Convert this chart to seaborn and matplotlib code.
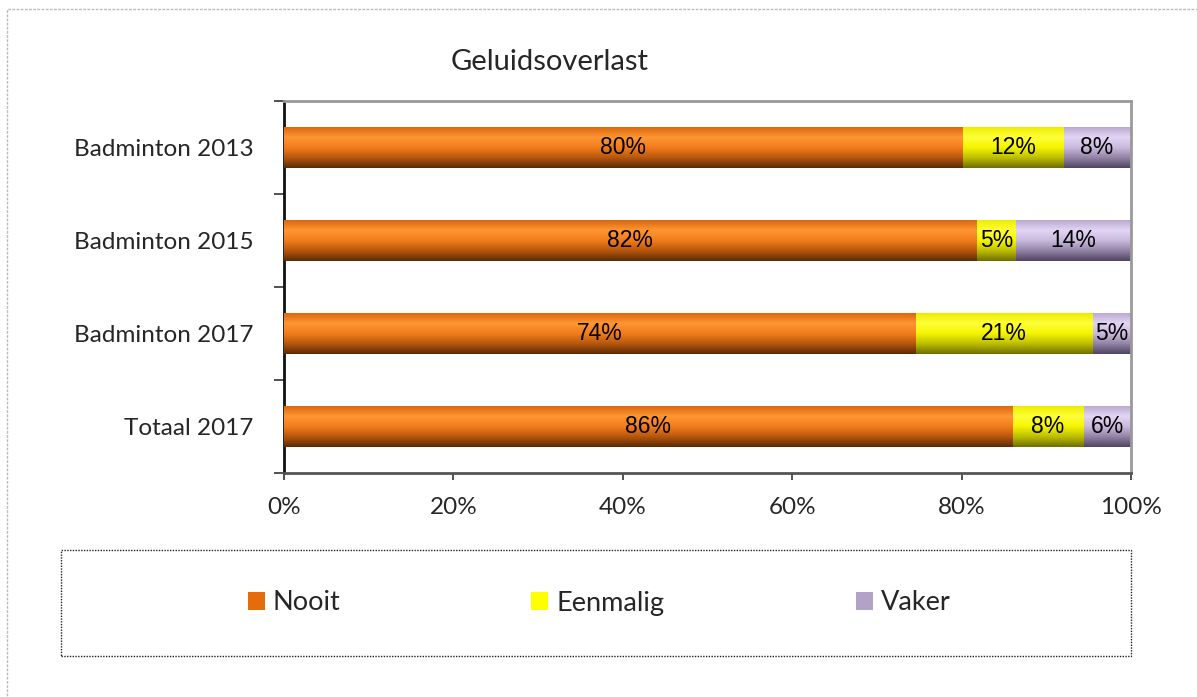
import numpy as np
import pandas as pd
import matplotlib
matplotlib.use("Agg")
import matplotlib.pyplot as plt
import seaborn as sns
from matplotlib import font_manager as fm
from matplotlib.colors import LinearSegmentedColormap
from matplotlib.patches import Patch, Rectangle

# ---- data -------------------------------------------------------------
categories = ["Badminton 2013", "Badminton 2015", "Badminton 2017", "Totaal 2017"]
nooit = [80.1, 81.8, 74.5, 86.0]
eenmalig = [11.9, 4.6, 20.9, 8.4]
vaker = [8.0, 13.6, 4.6, 5.6]
series_names = ["Nooit", "Eenmalig", "Vaker"]
x_ticks = [0, 20, 40, 60, 80, 100]
x_tick_labels = ["0%", "20%", "40%", "60%", "80%", "100%"]
title = "Geluidsoverlast"

# ---- styling ----------------------------------------------------------
legend_colors = {"Nooit": "#E46C0A", "Eenmalig": "#FFFF00", "Vaker": "#B3A2C7"}
# vertical shading of each bar (top -> bottom)
shades = {
    "Nooit": ["#D9680E", "#FF9633", "#F27C1C", "#B5560C", "#5A2A05"],
    "Eenmalig": ["#ECEC00", "#FFFF3A", "#F4F400", "#BDBD00", "#6E6E00"],
    "Vaker": ["#BBAACF", "#E3D5F5", "#C9B9DD", "#9282A4", "#4E4460"],
}

sns.set_style("ticks")
installed = {f.name for f in fm.fontManager.ttflist}
main_font = "Lato" if "Lato" in installed else "DejaVu Sans"
narrow_font = next(
    (f for f in ["Liberation Sans Narrow", "Arial Narrow", "DejaVu Sans Condensed", "Liberation Sans"]
     if f in installed),
    "DejaVu Sans",
)
plt.rcParams["font.family"] = [main_font, "DejaVu Sans"]

W, H = 1197, 697
fig = plt.figure(figsize=(W / 100, H / 100), dpi=100)
ax = fig.add_axes([284 / W, 1 - 473 / H, 847 / W, 372 / H])

df = pd.DataFrame({"cat": categories, "Nooit": nooit, "Eenmalig": eenmalig, "Vaker": vaker})
cum = df[series_names].cumsum(axis=1)
cum["cat"] = df["cat"]

# stacked bars: draw cumulative totals from the back to the front
layers = []
for name in reversed(series_names):
    start = len(ax.patches)
    sns.barplot(data=cum, x=name, y="cat", order=categories, orient="h",
                width=0.44, color=legend_colors[name], ax=ax)
    layers.append((name, ax.patches[start:]))

grad = np.linspace(0, 1, 256).reshape(-1, 1)
for depth, (name, patches) in enumerate(layers):
    cmap = LinearSegmentedColormap.from_list(name, shades[name])
    for p in patches:
        x0, y0, w, h = p.get_x(), p.get_y(), p.get_width(), p.get_height()
        p.set_facecolor("none")
        p.set_edgecolor("none")
        im = ax.imshow(grad, cmap=cmap, aspect="auto", origin="upper",
                       extent=(x0, x0 + w, y0 + h, y0), interpolation="bilinear",
                       zorder=2 + depth)
        im.set_clip_path(p)

# value labels centred in each segment
for i in range(len(categories)):
    left = 0.0
    for vals in (nooit, eenmalig, vaker):
        v = vals[i]
        ax.text(left + v / 2, i, f"{v:.0f}%", ha="center", va="center",
                fontsize=16.5, family=[narrow_font, "DejaVu Sans"], color="black", zorder=10)
        left += v

ax.set_xlim(0, 100)
ax.set_ylim(3.5, -0.5)
ax.set_xlabel(None)
ax.set_ylabel(None)
ax.set_xticks(x_ticks)
ax.set_xticklabels(x_tick_labels)
ax.set_yticks(range(len(categories)))
ax.set_yticklabels(categories)
ax.set_yticks([-0.5, 0.5, 1.5, 2.5, 3.5], minor=True)
ax.tick_params(axis="y", which="major", length=0, pad=22, labelsize=17.5)
ax.tick_params(axis="y", which="minor", length=7, width=1.2, color="#333333", direction="out")
ax.tick_params(axis="x", which="major", length=5, width=1.2, color="#333333",
               direction="out", pad=12, labelsize=17.5)

for side, col in (("left", "#111111"), ("bottom", "#555555"), ("top", "#999999"), ("right", "#999999")):
    ax.spines[side].set_visible(True)
    ax.spines[side].set_color(col)
    ax.spines[side].set_linewidth(2)

fig.text(550 / W, 1 - 62 / H, title, ha="center", va="center", fontsize=21)

# legend with dotted frame
fig.patches.append(Rectangle((61 / W, 1 - 656 / H), 1070 / W, 106 / H, transform=fig.transFigure,
                             fill=False, edgecolor="#222222", linestyle=(0, (1, 1)), linewidth=1))
handles = [Patch(facecolor=legend_colors[n], edgecolor="none") for n in series_names]
fig.legend(handles, series_names, loc="center", bbox_to_anchor=(599 / W, 1 - 603 / H),
           ncol=3, frameon=False, fontsize=19.5, handlelength=0.63, handleheight=0.63,
           handletextpad=0.3, columnspacing=7.05)

# faint dotted page border
fig.patches.append(Rectangle((7 / W, -0.2), 1.5, 1.2 - 9 / H, transform=fig.transFigure,
                             fill=False, edgecolor="#BBBBBB", linestyle=(0, (2, 1)), linewidth=1))

fig.savefig("out.png", dpi=100)
